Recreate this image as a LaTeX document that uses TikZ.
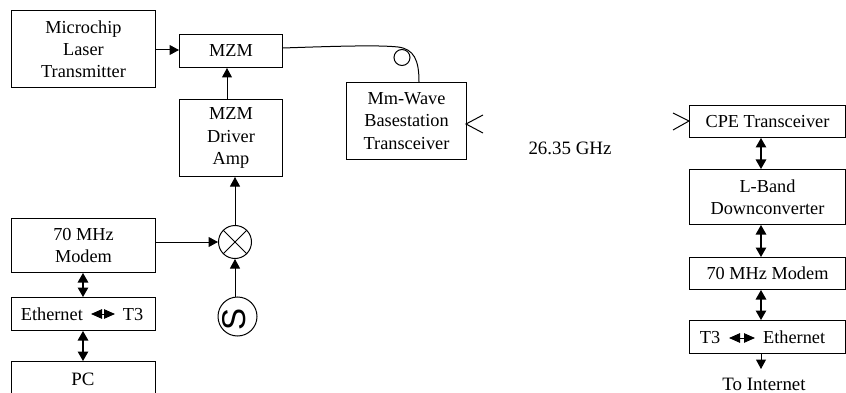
\documentclass[tikz,border=0pt]{standalone}
\usepackage{fontspec}
\setmainfont{Liberation Serif}
\setsansfont{Liberation Sans}
\usetikzlibrary{arrows.meta}
\tikzset{
  px/.style={x=1pt,y=-1pt},
  blk/.style={draw,line width=1pt,inner sep=0pt,align=center,font=\fontsize{18.3pt}{22.2pt}\selectfont,anchor=north west},
  lbl/.style={inner sep=0pt,font=\fontsize{18.9pt}{22pt}\selectfont},
  wire/.style={line width=1pt},
  arr/.style={wire,-{Triangle[length=9.5pt,width=10pt]}},
  darr/.style={line width=1.2pt,{Triangle[length=9.5pt,width=10.5pt]}-{Triangle[length=9.5pt,width=10.5pt]}},
  inarr/.style={line width=1pt,{Triangle[length=11pt,width=9.5pt]}-{Triangle[length=11pt,width=9.5pt]}},
  circ/.style={draw,circle,line width=1pt,inner sep=0pt},
}
\newcommand{\bx}[6]{\node[blk,minimum width=#4pt,minimum height=#5pt] (#1) at (#2,#3) {#6};}
\begin{document}
\begin{tikzpicture}[px]
\useasboundingbox (0,0) rectangle (846,393);
\bx{laser}{11}{10}{144}{77}{Microchip\\Laser\\Transmitter}
\bx{mzm}{179}{34}{103}{33}{MZM}
\bx{drv}{179}{99}{103}{77}{MZM\\Driver\\Amp}
\bx{bs}{346}{82}{120}{77}{Mm-Wave\\Basestation\\Transceiver}
\bx{mod}{11}{218}{144}{54}{70 MHz\\Modem}
\bx{eth}{11}{297}{144}{33}{Ethernet\hspace{40pt}T3\hspace*{3pt}}
\bx{pc}{11}{361}{144}{40}{}
\node[lbl] (pct) at (83,379) {PC};
\bx{cpe}{689}{105}{156}{32}{CPE Transceiver}
\bx{lb}{689}{169}{156}{55}{L-Band\\Downconverter}
\bx{m70}{689}{257}{156}{32}{70 MHz Modem}
\bx{t3}{689}{320}{156}{33}{T3\hspace{43pt}Ethernet\hspace*{10pt}}
\node[lbl] (ghz) at (570,148) {26.35 GHz};
\node[lbl] (inet) at (764,384.5) {To Internet};
\node[circ,minimum size=33pt] (mix) at (235,242) {};
\draw[wire] (mix.north west) -- (mix.south east) (mix.north east) -- (mix.south west);
\node[circ,minimum size=39pt] (osc) at (237.5,316.5) {};
\node[inner sep=0pt] (oscs) at (234,319) {\rotatebox{90}{\fontsize{33pt}{33pt}\selectfont\sffamily S}};
\node[circ,minimum size=16pt] (loop) at (402,57.5) {};
% fiber
\draw[wire] (mzm.east |- 0,48) .. controls (340,46) and (380,45) .. (398,47) .. controls (414,49) and (419,60) .. (bs.north -| 419,0);
% antennas
\coordinate (a1) at (483,115); \coordinate (a2) at (466,124); \coordinate (a3) at (483,133);
\draw[wire] (a1) -- (a2) -- (a3);
\coordinate (b1) at (673,113); \coordinate (b2) at (689,121); \coordinate (b3) at (673,130);
\draw[wire] (b1) -- (b2) -- (b3);
% in-box arrows
\coordinate (e1) at (91,314); \coordinate (e2) at (115,314);
\draw[inarr] (e1) -- (e2);
\coordinate (f1) at (729,338); \coordinate (f2) at (755,338);
\draw[inarr] (f1) -- (f2);
\draw[arr] (laser.east |- 0,50) -- (mzm.west |- 0,50);
\draw[arr] (drv.north -| 227,0) -- (mzm.south -| 227,0);
\draw[arr] (mix.north) -- (drv.south -| mix);
\draw[arr] (mod.east |- mix) -- (mix.west);
\draw[arr] (osc.north -| mix) -- (mix.south);
\draw[darr] (mod.south -| 83,0) -- (eth.north -| 83,0);
\draw[darr] (eth.south -| 83,0) -- (pc.north -| 83,0);
\draw[darr] (cpe.south -| 761,0) -- (lb.north -| 761,0);
\draw[darr] (lb.south -| 761,0) -- (m70.north -| 761,0);
\draw[darr] (m70.south -| 761,0) -- (t3.north -| 761,0);
\coordinate (outb) at (761,369);
\draw[arr] (t3.south -| outb) -- (outb);
\end{tikzpicture}
\end{document}
